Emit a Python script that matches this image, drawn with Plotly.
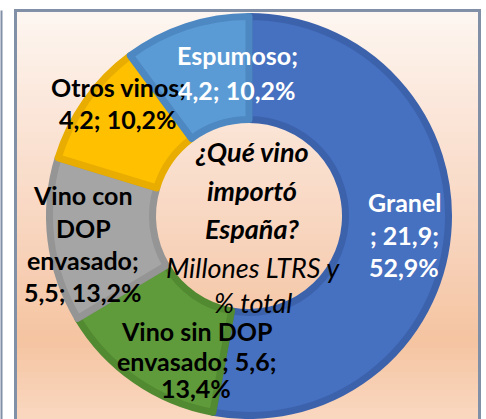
import plotly.graph_objects as go

# ---------------- data ----------------
categories = ["Granel", "Vino sin DOP envasado", "Vino con DOP envasado", "Otros vinos", "Espumoso"]
values_mltrs = [21.9, 5.6, 5.5, 4.2, 4.2]
pct_total = [52.9, 13.4, 13.2, 10.2, 10.2]
title_lines = ["¿Qué vino", "importó", "España?"]
subtitle_lines = ["Millones LTRS y", "% total"]

# ---------------- style ----------------
W, H = 486, 419
fill_colors = ["#4670c0", "#5f9b3b", "#a5a5a5", "#ffc000", "#5b9bd5"]
band_colors = ["#3c62ac", "#528a31", "#959595", "#e8ad00", "#4d88c2"]
text_colors = ["white", "black", "black", "black", "white"]
FONT = "Lato"


def fmt(x):
    return f"{x:.1f}".replace(".", ",")


def px(x):
    return x / W


def py(y):
    return 1 - y / H


# label lines built from data (line breaks as in the reference)
v = [fmt(x) for x in values_mltrs]
p = [fmt(x) + "%" for x in pct_total]
label_lines = [
    [categories[0], f"; {v[0]};", p[0]],
    ["Vino sin DOP", f"envasado; {v[1]};", p[1]],
    ["Vino con", "DOP", "envasado;", f"{v[2]}; {p[2]}"],
    [categories[3] + ";", f"{v[3]}; {p[3]}"],
    [categories[4] + ";", f"{v[4]}; {p[4]}"],
]
# pixel positions of each text line (center x, center y)
label_pos = [
    (404, [202, 235, 267]),
    (196, [331, 361, 388]),
    (83, [195, 228, 260, 292]),
    (118, [87, 119]),
    (237, [55, 90]),
]

# donut geometry (pixels)
cx, cy, r_out, r_in, band = 249, 216, 203, 93, 7
r_pie = r_out - band / 2
hole = (r_in + band / 2) / r_pie

fig = go.Figure()
fig.add_trace(go.Pie(
    labels=categories,
    values=values_mltrs,
    sort=False,
    direction="clockwise",
    rotation=0,
    hole=hole,
    marker=dict(colors=fill_colors, line=dict(color=band_colors, width=band)),
    textinfo="none",
    hoverinfo="label+value+percent",
    showlegend=False,
    domain=dict(x=[px(cx - r_pie), px(cx + r_pie)], y=[py(cy + r_pie), py(cy - r_pie)]),
))

# ---------------- background gradient + frame ----------------
shapes = []
stops = [(12, (253, 246, 241)), (120, (251, 229, 215)), (230, (248, 213, 191)),
         (340, (245, 196, 161)), (419, (249, 216, 192))]


def col_at(y):
    for (y0, c0), (y1, c1) in zip(stops[:-1], stops[1:]):
        if y0 <= y <= y1:
            t = (y - y0) / (y1 - y0)
            return "rgb(%d,%d,%d)" % tuple(round(a + (b - a) * t) for a, b in zip(c0, c1))
    return "rgb(%d,%d,%d)" % stops[-1][1]


step = 6
y = 12
while y < H:
    shapes.append(dict(type="rect", xref="paper", yref="paper", layer="below",
                       x0=px(16), x1=px(479), y0=py(min(y + step + 1, H + 2)), y1=py(y),
                       fillcolor=col_at(y + step / 2), line=dict(width=0)))
    y += step

shapes.append(dict(type="rect", xref="paper", yref="paper", layer="above",
                   x0=px(15.5), x1=px(479.5), y0=py(440), y1=py(10.5),
                   line=dict(color="#8190a6", width=3), fillcolor="rgba(0,0,0,0)"))
shapes.append(dict(type="line", xref="paper", yref="paper", layer="above",
                   x0=px(1.5), x1=px(1.5), y0=py(440), y1=py(10.5),
                   line=dict(color="#8190a6", width=2)))

# ---------------- annotations ----------------
ann = []
for lines, (x, ys), tc in zip(label_lines, label_pos, text_colors):
    for line, yy in zip(lines, ys):
        ann.append(dict(text=f"<b>{line}</b>", x=px(x), y=py(yy), xref="paper", yref="paper",
                        xanchor="center", yanchor="middle", showarrow=False,
                        font=dict(family=FONT, size=25, color=tc)))

for line, yy in zip(title_lines, [151, 190, 228]):
    ann.append(dict(text=f"<b><i>{line}</i></b>", x=px(252), y=py(yy), xref="paper", yref="paper",
                    xanchor="center", yanchor="middle", showarrow=False,
                    font=dict(family=FONT, size=27, color="black")))
for line, yy in zip(subtitle_lines, [267, 302]):
    ann.append(dict(text=f"<i>{line}</i>", x=px(253), y=py(yy), xref="paper", yref="paper",
                    xanchor="center", yanchor="middle", showarrow=False,
                    font=dict(family=FONT, size=27, color="black")))

fig.update_layout(
    width=W, height=H,
    margin=dict(l=0, r=0, t=0, b=0),
    paper_bgcolor="white",
    plot_bgcolor="white",
    shapes=shapes,
    annotations=ann,
)

fig.write_html("out.html", config={"displayModeBar": False},
               post_script="document.body.style.margin='0px';")
